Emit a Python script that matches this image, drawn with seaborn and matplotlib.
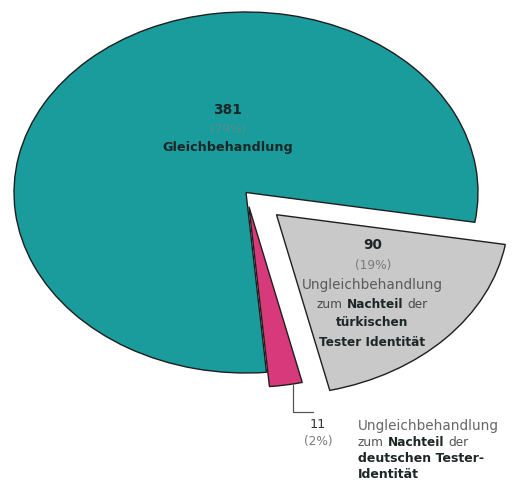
import numpy as np
import matplotlib
matplotlib.use("Agg")
import matplotlib.pyplot as plt
import seaborn as sns

# ---- data ----
categories = ["Gleichbehandlung",
              "Ungleichbehandlung zum Nachteil der deutschen Tester-Identität",
              "Ungleichbehandlung zum Nachteil der türkischen Tester Identität"]
counts = [381, 11, 90]
percent_labels = ["(79%)", "(2%)", "(19%)"]
colors = ["#1b9c9c", "#d8397a", "#c9c9c9"]
explode = [0.0, 0.08, 0.18]

sns.set_theme(style="white")
plt.rcParams['font.family'] = ['DejaVu Sans']

W, H = 512, 497
fig = plt.figure(figsize=(W / 100, H / 100), dpi=100)
ax = fig.add_axes([0, 0, 1, 1])

# ellipse geometry (pixel): center & radii
CX, CY, RX, RY = 246.0, 192.5, 232.0, 180.5

wedges, _ = ax.pie(counts, colors=colors, explode=explode, startangle=-9.5,
                   counterclock=True, radius=1.0,
                   wedgeprops=dict(edgecolor="#1e1e1e", linewidth=1.0))
ax.set_aspect("auto")
ax.set_xlim((0 - CX) / RX, (W - CX) / RX)
ax.set_ylim((CY - H) / RY, (CY - 0) / RY)
ax.axis("off")


def fp(x, y):
    return (x / W, 1 - y / H)


renderer = fig.canvas.get_renderer()
FS = 8.7
FS_WIDE = 9.8
DARK = "#1d2626"
GREY = "#7a7a7a"


def rich(x, y, pieces, ha="center", size=FS):
    objs = []
    for s, w, c in pieces:
        objs.append(fig.text(0, 0, s, fontsize=size, fontweight=w, color=c,
                             va="center", ha="left"))
    t1 = fig.text(0, 0, "a a", fontsize=size)
    t2 = fig.text(0, 0, "aa", fontsize=size)
    sp = t1.get_window_extent(renderer).width - t2.get_window_extent(renderer).width
    t1.remove(); t2.remove()
    widths = [o.get_window_extent(renderer).width for o in objs]
    total = sum(widths) + sp * (len(objs) - 1)
    cur = x - total / 2 if ha == "center" else x
    for o, w in zip(objs, widths):
        o.set_position(fp(cur, y))
        cur += w + sp


# main slice label
rich(228, 110, [(str(counts[0]), "bold", DARK)], size=9.8)
rich(228, 129, [(percent_labels[0], "normal", "#4f8f8f")])
rich(228, 148, [("Gleichbehandlung", "bold", DARK)], size=9.2)

# grey slice label
rich(373, 245, [(str(counts[2]), "bold", DARK)], size=9.8)
rich(373, 265, [(percent_labels[2], "normal", GREY)])
rich(372, 285, [("Ungleichbehandlung", "normal", "#5a5a5a")], size=FS_WIDE)
rich(372, 304, [("zum", "normal", "#4a4a4a"), ("Nachteil", "bold", DARK),
                ("der", "normal", "#4a4a4a")])
rich(372, 323, [("türkischen", "bold", DARK)])
rich(372, 343, [("Tester Identität", "bold", DARK)])

# small slice label with leader line
w = wedges[1]
mid = np.deg2rad((w.theta1 + w.theta2) / 2)
cx, cy = w.center
px_pt = (cx + w.r * np.cos(mid) + 0.03, cy + w.r * np.sin(mid))
ax.annotate("", xy=px_pt, xycoords="data",
            xytext=fp(313, 412), textcoords="figure fraction",
            arrowprops=dict(arrowstyle="-", color="#555555", lw=0.9,
                            shrinkA=0, shrinkB=0,
                            connectionstyle="angle,angleA=0,angleB=90,rad=0"))
rich(318, 425, [(str(counts[1]), "normal", "#333333")], size=9.2)
rich(318, 441, [(percent_labels[1], "normal", GREY)])
rich(358, 426, [("Ungleichbehandlung", "normal", "#666666")], ha="left",
     size=FS_WIDE)
rich(358, 442, [("zum", "normal", "#555555"), ("Nachteil", "bold", DARK),
                ("der", "normal", "#555555")], ha="left")
rich(358, 458, [("deutschen Tester-", "bold", DARK)], ha="left", size=9.0)
rich(358, 475, [("Identität", "bold", DARK)], ha="left", size=9.0)

fig.savefig("out.png", dpi=100)
